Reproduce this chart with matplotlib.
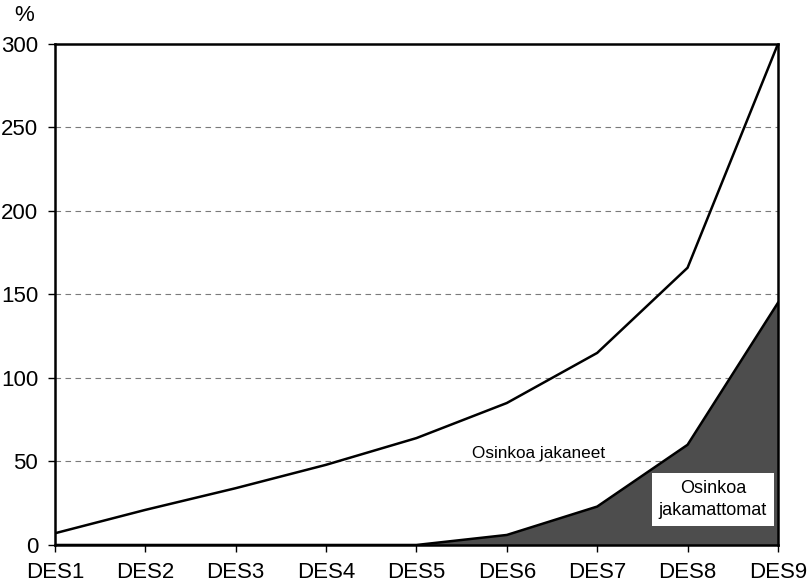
import matplotlib.pyplot as plt

plt.rcParams['font.family'] = ['Liberation Sans', 'DejaVu Sans']

categories = ['DES1', 'DES2', 'DES3', 'DES4', 'DES5', 'DES6', 'DES7', 'DES8', 'DES9']
jakaneet = [7, 21, 34, 48, 64, 85, 115, 166, 300]
jakamattomat = [0, 0, 0, 0, 0, 6, 23, 60, 145]
yticks = [0, 50, 100, 150, 200, 250, 300]

fig = plt.figure(figsize=(8.07, 5.86), dpi=100)
ax = fig.add_axes([0.068, 0.070, 0.896, 0.855])

x = range(len(categories))

# grid lines first, so they sit behind everything
for y in yticks[1:-1]:
    ax.axhline(y, color='#7a7a7a', lw=0.8, ls=(0, (5, 4)), zorder=0)

ax.fill_between(x, jakamattomat, 0, color='#4d4d4d', zorder=1)
ax.plot(x, jakamattomat, color='black', lw=1.8, zorder=2)
ax.plot(x, jakaneet, color='black', lw=1.8, zorder=2)

ax.set_xlim(0, len(categories) - 1)
ax.set_ylim(0, 300)
ax.set_xticks(list(x))
ax.set_xticklabels(categories)
ax.set_yticks(yticks)
ax.tick_params(labelsize=16, length=5, width=1, direction='out', pad=7)
for s in ax.spines.values():
    s.set_linewidth(1.8)

ax.text(-0.042, 1.035, '%', transform=ax.transAxes, fontsize=16, ha='center', va='bottom')

ax.text(5.35, 55, 'Osinkoa jakaneet', fontsize=12.3, ha='center', va='center')
ax.text(7.28, 27, 'Osinkoa\njakamattomat', fontsize=13, ha='center', va='center',
        linespacing=1.4,
        bbox=dict(facecolor='white', edgecolor='none', pad=5))

fig.savefig('out.png', dpi=100)
